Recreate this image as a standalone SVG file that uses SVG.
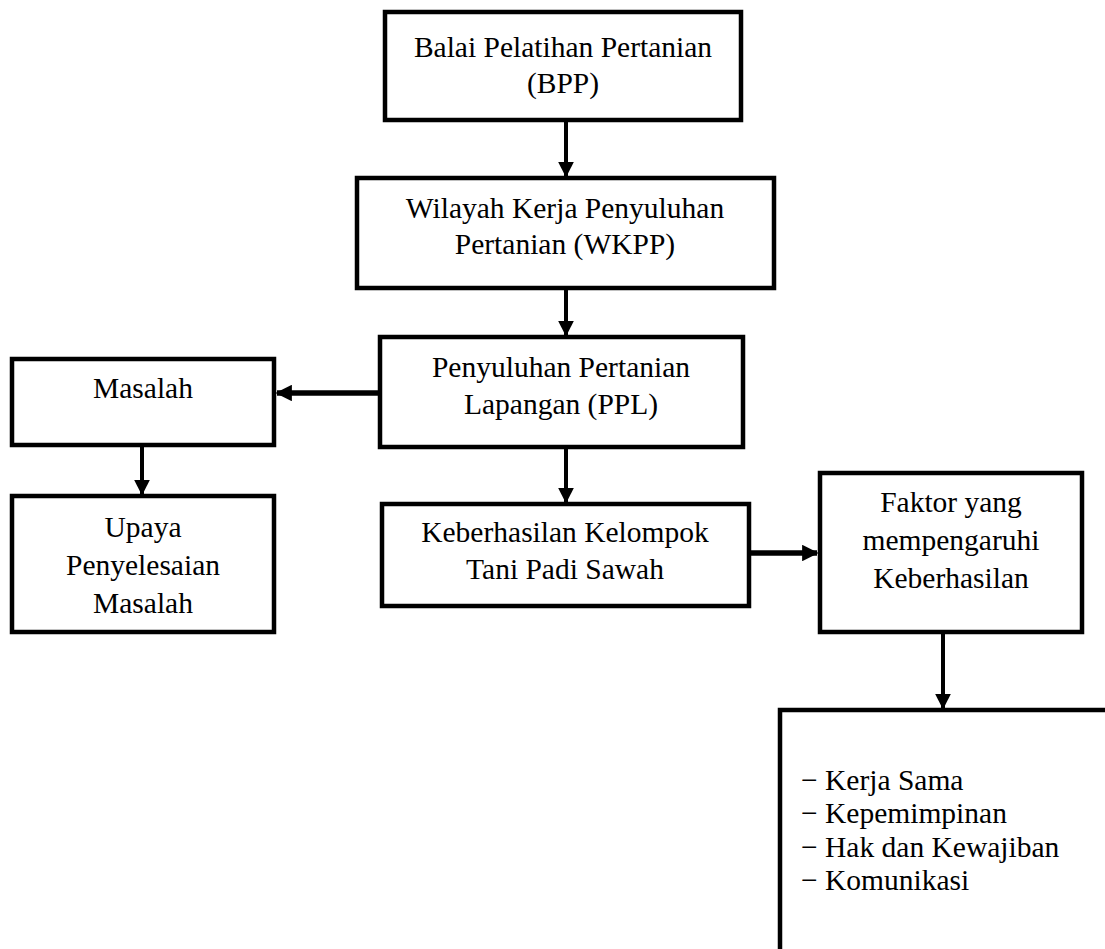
<svg xmlns="http://www.w3.org/2000/svg" width="1105" height="949" viewBox="0 0 1105 949">
<style>
.box{fill:#fff;stroke:#000;stroke-width:4.5}
.t{font-family:"Liberation Serif","Times New Roman",serif;font-size:29.5px;fill:#000;text-anchor:middle}
.l{font-family:"Liberation Serif","Times New Roman",serif;font-size:29.5px;fill:#000}
.c{stroke:#000;stroke-width:4;fill:none}
.h{stroke:#000;stroke-width:5.5;fill:none}
</style>
<defs>
<marker id="ah" viewBox="0 0 10 10" refX="9" refY="5" markerWidth="4" markerHeight="4" orient="auto" markerUnits="strokeWidth">
<path d="M0,0 L10,5 L0,10 z" fill="#000"/>
</marker>
<marker id="ahh" viewBox="0 0 10 10" refX="9" refY="5" markerWidth="3" markerHeight="3" orient="auto" markerUnits="strokeWidth">
<path d="M0,0 L10,5 L0,10 z" fill="#000"/>
</marker>
</defs>
<g id="connectors">
<line class="c" x1="566" y1="120" x2="566" y2="176" marker-end="url(#ah)"/>
<line class="c" x1="566" y1="288" x2="566" y2="335" marker-end="url(#ah)"/>
<line class="h" x1="380" y1="393" x2="277" y2="393" marker-end="url(#ahh)"/>
<line class="c" x1="142" y1="445" x2="142" y2="494" marker-end="url(#ah)"/>
<line class="c" x1="566" y1="447" x2="566" y2="502" marker-end="url(#ah)"/>
<line class="h" x1="749" y1="553" x2="817" y2="553" marker-end="url(#ahh)"/>
<line class="c" x1="943" y1="632" x2="943" y2="708" marker-end="url(#ah)"/>
</g>
<g id="bpp">
<rect class="box" x="385" y="12" width="356" height="108"/>
<text class="t" x="563" y="57">Balai Pelatihan Pertanian</text>
<text class="t" x="563" y="93">(BPP)</text>
</g>
<g id="wkpp">
<rect class="box" x="357" y="178" width="417" height="110"/>
<text class="t" x="565" y="218">Wilayah Kerja Penyuluhan</text>
<text class="t" x="565" y="254">Pertanian (WKPP)</text>
</g>
<g id="ppl">
<rect class="box" x="380" y="337" width="363" height="110"/>
<text class="t" x="561" y="377">Penyuluhan Pertanian</text>
<text class="t" x="561" y="414">Lapangan (PPL)</text>
</g>
<g id="masalah">
<rect class="box" x="12" y="359" width="262" height="86"/>
<text class="t" x="143" y="398">Masalah</text>
</g>
<g id="upaya">
<rect class="box" x="12" y="496" width="262" height="136"/>
<text class="t" x="143" y="537">Upaya</text>
<text class="t" x="143" y="575">Penyelesaian</text>
<text class="t" x="143" y="613">Masalah</text>
</g>
<g id="keberhasilan">
<rect class="box" x="382" y="504" width="367" height="102"/>
<text class="t" x="565" y="542">Keberhasilan Kelompok</text>
<text class="t" x="565" y="579">Tani Padi Sawah</text>
</g>
<g id="faktor">
<rect class="box" x="820" y="473" width="262" height="159"/>
<text class="t" x="951" y="512">Faktor yang</text>
<text class="t" x="951" y="550">mempengaruhi</text>
<text class="t" x="951" y="588">Keberhasilan</text>
</g>
<g id="list">
<path class="box" d="M780,955 L780,710 L1110,710" fill="none"/>
<text class="l" x="801" y="790">− Kerja Sama</text>
<text class="l" x="801" y="823">− Kepemimpinan</text>
<text class="l" x="801" y="857">− Hak dan Kewajiban</text>
<text class="l" x="801" y="890">− Komunikasi</text>
</g>
</svg>
